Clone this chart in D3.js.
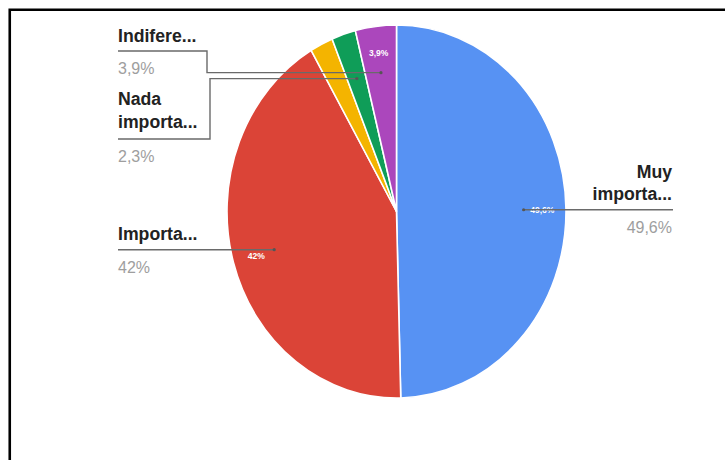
<!DOCTYPE html>
<html>
<head>
<meta charset="utf-8">
<script src="https://cdn.jsdelivr.net/npm/d3@7"></script>
<style>
  html, body { margin: 0; padding: 0; background: #fff; }
  svg { display: block; }
</style>
</head>
<body>
<svg id="chart" width="725" height="460"></svg>
<script>
// Survey answers, in slice order (clockwise from 12 o'clock)
const categories  = ["Muy importante", "Importante", "Poco importante", "Nada importante", "Indiferente"];
const values      = [49.6, 42.0, 2.2, 2.3, 3.9];
const colors      = ["#5792f3", "#db4437", "#f4b400", "#0f9d58", "#ab47bc"];
// Outside labels as drawn (truncated names, one entry per line); null = no outside label
const labelLines  = [["Muy", "importa..."], ["Importa..."], null, ["Nada", "importa..."], ["Indifere..."]];
const valueLabels = ["49,6%", "42%", "2,2%", "2,3%", "3,9%"];

const W = 725, H = 460;
const svg = d3.select("#chart");

// Frame: top and left rules
svg.append("path")
  .attr("d", `M9.75,${H} L9.75,9.75 L${W},9.75`)
  .attr("fill", "none").attr("stroke", "#000").attr("stroke-width", 2.6);

// Pie geometry (slightly oval: narrower than tall)
const cx = 396.5, cy = 211.5, ry = 186.5, rx = 169.5;
const sx = rx / ry;

const data = categories.map((c, i) => ({ name: c, value: values[i], color: colors[i], lines: labelLines[i], vlabel: valueLabels[i] }));
const pie = d3.pie().sort(null).value(d => d.value);
const arcs = pie(data);
const arc = d3.arc().innerRadius(0).outerRadius(ry);

const g = svg.append("g").attr("transform", `translate(${cx},${cy}) scale(${sx},1)`);
g.selectAll("path.slice").data(arcs).join("path")
  .attr("class", "slice")
  .attr("d", arc)
  .attr("fill", d => d.data.color)
  .attr("stroke", "#fff")
  .attr("stroke-width", 1.6)
  .attr("vector-effect", "non-scaling-stroke");

// Point on the oval at a fraction of the radius, at the slice's mid angle
function ovalPoint(d, f) {
  const a = (d.startAngle + d.endAngle) / 2;
  return [cx + rx * f * Math.sin(a), cy - ry * f * Math.cos(a)];
}

// Value labels inside the larger slices
arcs.filter(d => d.data.value >= 3).forEach(d => {
  const p = ovalPoint(d, 0.86);
  svg.append("text")
    .attr("transform", `translate(${p[0]},${p[1] + 3.5}) scale(0.9,1)`)
    .attr("text-anchor", "middle")
    .attr("font-family", "Liberation Sans, Arial, sans-serif")
    .attr("font-weight", "bold")
    .attr("font-size", 9.5)
    .attr("fill", "#fff")
    .text(d.data.vlabel);
});

// Outside label layout, per category
const layout = {
  "Muy importante":  { anchor: "end",   x: 672, nameY: [178, 200], valueY: 233, leader: (p) => [p, [673, p[1]]] },
  "Importante":      { anchor: "start", x: 118, nameY: [240],      valueY: 273, leader: (p) => [[118, p[1]], p] },
  "Nada importante": { anchor: "start", x: 118, nameY: [105, 128], valueY: 162, leader: (p) => [[118, 139], [210, 139], [210, p[1]], p] },
  "Indiferente":     { anchor: "start", x: 118, nameY: [42],       valueY: 74,  leader: (p) => [[118, 51], [207, 51], [207, p[1]], p] }
};

const line = d3.line();
arcs.filter(d => d.data.lines).forEach(d => {
  const L = layout[d.data.name];
  const p = ovalPoint(d, 0.75);
  svg.append("path")
    .attr("d", line(L.leader(p)))
    .attr("fill", "none")
    .attr("stroke", "#6a6a6a")
    .attr("stroke-width", 1.4);
  svg.append("circle")
    .attr("cx", p[0]).attr("cy", p[1]).attr("r", 1.6)
    .attr("fill", "#555");

  d.data.lines.forEach((t, k) => {
    svg.append("text")
      .attr("transform", `translate(${L.x},${L.nameY[k]}) scale(0.93,1)`)
      .attr("text-anchor", L.anchor)
      .attr("font-family", "Liberation Sans, Arial, sans-serif")
      .attr("font-weight", "bold")
      .attr("font-size", 19)
      .attr("fill", "#222")
      .text(t);
  });
  svg.append("text")
    .attr("transform", `translate(${L.x},${L.valueY}) scale(1.0,1)`)
    .attr("text-anchor", L.anchor)
    .attr("font-family", "Liberation Sans, Arial, sans-serif")
    .attr("font-size", 16)
    .attr("fill", "#9e9e9e")
    .text(d.data.vlabel);
});
</script>
</body>
</html>
